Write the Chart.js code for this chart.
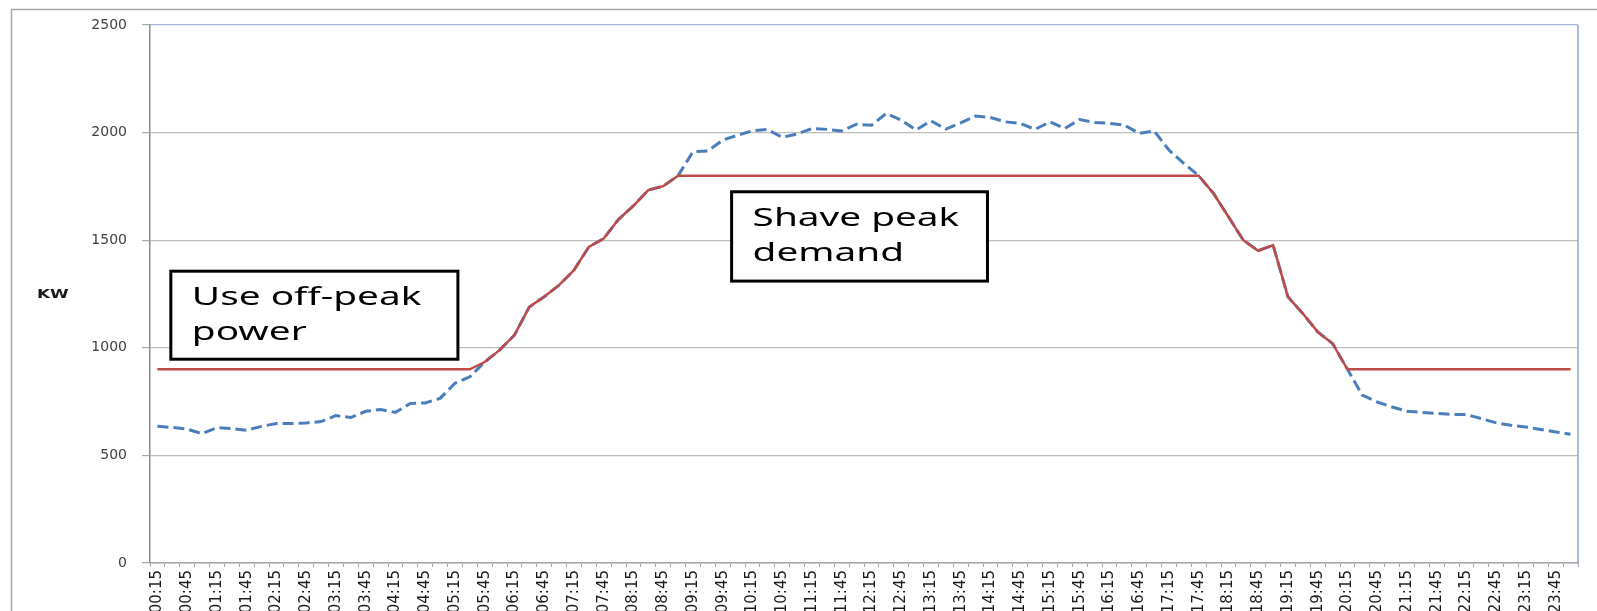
<!DOCTYPE html>
<html>
<head>
<meta charset="utf-8">
<title>Peak shaving load profile</title>
<script src="https://cdn.jsdelivr.net/npm/chart.js@4.4.1/dist/chart.umd.min.js"></script>
<style>
  html, body { margin: 0; padding: 0; background: #fff; overflow: hidden; }
  #wrap { position: relative; width: 1597px; height: 611px; }
</style>
</head>
<body>
<div id="wrap"><canvas id="loadChart"></canvas></div>
<script>
// 15 minute intervals, 00:15 through midnight
const times = [
  "00:15","00:30","00:45","01:00","01:15","01:30","01:45","02:00",
  "02:15","02:30","02:45","03:00","03:15","03:30","03:45","04:00",
  "04:15","04:30","04:45","05:00","05:15","05:30","05:45","06:00",
  "06:15","06:30","06:45","07:00","07:15","07:30","07:45","08:00",
  "08:15","08:30","08:45","09:00","09:15","09:30","09:45","10:00",
  "10:15","10:30","10:45","11:00","11:15","11:30","11:45","12:00",
  "12:15","12:30","12:45","13:00","13:15","13:30","13:45","14:00",
  "14:15","14:30","14:45","15:00","15:15","15:30","15:45","16:00",
  "16:15","16:30","16:45","17:00","17:15","17:30","17:45","18:00",
  "18:15","18:30","18:45","19:00","19:15","19:30","19:45","20:00",
  "20:15","20:30","20:45","21:00","21:15","21:30","21:45","22:00",
  "22:15","22:30","22:45","23:00","23:15","23:30","23:45","00:00"
];

// measured demand (blue dashed)
const demandKw = [
  635, 630, 622, 601, 629, 625, 617, 635, 648, 648, 651, 657,
  685, 676, 705, 713, 700, 741, 744, 765, 835, 865,
  934, 989, 1059, 1190, 1237, 1291, 1361, 1469, 1508, 1597, 1660, 1733, 1751, 1800,
  1911, 1915, 1965, 1988, 2008, 2015, 1978, 1993, 2019, 2015, 2008, 2039,
  2034, 2089, 2058, 2012, 2055, 2016, 2045, 2077, 2070, 2050, 2043, 2015,
  2050, 2019, 2061, 2047, 2043, 2035, 1996, 2008, 1919, 1857,
  1800, 1717, 1609, 1500, 1451, 1477, 1237, 1159, 1074, 1020, 900,
  780, 748, 725, 705, 700, 695, 690, 690, 671, 651, 640, 632, 620, 609, 598
];

// demand seen by the grid after storage (red)
const shavedKw = [
  900, 900, 900, 900, 900, 900, 900, 900, 900, 900, 900, 900,
  900, 900, 900, 900, 900, 900, 900, 900, 900, 900,
  934, 989, 1059, 1190, 1237, 1291, 1361, 1469, 1508, 1597, 1660, 1733, 1751, 1800,
  1800, 1800, 1800, 1800, 1800, 1800, 1800, 1800, 1800, 1800, 1800, 1800,
  1800, 1800, 1800, 1800, 1800, 1800, 1800, 1800, 1800, 1800, 1800, 1800,
  1800, 1800, 1800, 1800, 1800, 1800, 1800, 1800, 1800, 1800,
  1800, 1717, 1609, 1500, 1451, 1477, 1237, 1159, 1074, 1020, 900,
  900, 900, 900, 900, 900, 900, 900, 900, 900, 900, 900, 900, 900, 900, 900
];

const yTicks = [0, 500, 1000, 1500, 2000, 2500];

// text boxes, placed in axis units (category index / kW)
const noteText = [["Use off-peak", "power"], ["Shave peak", "demand"]];
const noteFrom = [0.9, 38.6];
const noteTo = [20.2, 55.8];
const noteTop = [1356, 1725];
const noteBottom = [947, 1310];

const framePlugin = {
  id: 'frame',
  beforeDraw(chart) {
    const ctx = chart.ctx;
    ctx.save();
    ctx.fillStyle = '#fff';
    ctx.fillRect(0, 0, chart.width, chart.height);
    ctx.strokeStyle = '#a6a6a6';
    ctx.lineWidth = 1.5;
    ctx.strokeRect(11.5, 9.5, chart.width + 20, chart.height + 20);
    ctx.restore();
  },
  afterDraw(chart) {
    const a = chart.chartArea;
    const ctx = chart.ctx;
    ctx.save();
    // plot area right edge
    ctx.strokeStyle = '#8ea8cb';
    ctx.lineWidth = 1.5;
    ctx.beginPath();
    ctx.moveTo(a.right, a.top);
    ctx.lineTo(a.right, a.bottom + 1);
    ctx.stroke();
    // unit label, horizontal
    ctx.fillStyle = '#1a1a1a';
    ctx.font = 'bold 13px "DejaVu Sans"';
    ctx.textBaseline = 'middle';
    ctx.translate(37, (a.top + a.bottom) / 2 + 1);
    ctx.scale(1.3, 1);
    ctx.fillText('KW', 0, 0);
    ctx.restore();
  }
};

const notesPlugin = {
  id: 'notes',
  afterDatasetsDraw(chart) {
    const ctx = chart.ctx;
    const x = chart.scales.x, y = chart.scales.y;
    noteText.forEach((lines, n) => {
      const l = x.getPixelForValue(noteFrom[n]);
      const r = x.getPixelForValue(noteTo[n]);
      const t = y.getPixelForValue(noteTop[n]);
      const b = y.getPixelForValue(noteBottom[n]);
      ctx.save();
      ctx.fillStyle = '#fff';
      ctx.fillRect(l, t, r - l, b - t);
      ctx.strokeStyle = '#000';
      ctx.lineWidth = 3;
      ctx.strokeRect(l, t, r - l, b - t);
      ctx.fillStyle = '#000';
      ctx.font = '25px "Noto Sans"';
      lines.forEach((line, i) => {
        ctx.save();
        ctx.translate(l + 21, t + 34 + i * 35);
        ctx.scale(1.55, 1);
        ctx.fillText(line, 0, 0);
        ctx.restore();
      });
      ctx.restore();
    });
  }
};

new Chart(document.getElementById('loadChart'), {
  type: 'line',
  data: {
    labels: times,
    datasets: [
      {
        label: 'With storage',
        data: shavedKw,
        borderColor: '#be4b48',
        borderWidth: 2.5,
        pointRadius: 0,
        tension: 0,
        fill: false
      },
      {
        label: 'Demand',
        data: demandKw,
        borderColor: '#4a7ebb',
        borderWidth: 3,
        borderDash: [11, 5],
        pointRadius: 0,
        tension: 0,
        fill: false
      }
    ]
  },
  options: {
    responsive: true,
    maintainAspectRatio: false,
    animation: false,
    layout: { padding: { left: 0, right: 19, top: 25, bottom: 0 } },
    plugins: {
      legend: { display: false },
      tooltip: { enabled: true }
    },
    scales: {
      x: {
        offset: true,
        grid: {
          offset: true,
          drawOnChartArea: false,
          drawTicks: true,
          tickLength: 4,
          color: '#a6a6a6'
        },
        border: { display: true, color: '#a6a6a6', width: 1.5 },
        ticks: {
          autoSkip: false,
          minRotation: 90,
          maxRotation: 90,
          padding: 3,
          color: '#1a1a1a',
          font: { family: 'DejaVu Sans', size: 15 },
          callback: function (v, i) {
            return i % 2 === 0 ? this.getLabelForValue(v) : '';
          }
        },
        afterFit(scale) { scale.height = 48; }
      },
      y: {
        min: yTicks[0],
        max: yTicks[yTicks.length - 1],
        grid: {
          color: (c) => (c.tick && c.tick.value === 2500 ? '#a3b5d6' : '#bdbdbd'),
          tickColor: '#a6a6a6',
          tickLength: 8,
          lineWidth: 1.2
        },
        border: { display: true, color: '#8c8c8c', width: 1.5 },
        ticks: {
          stepSize: 500,
          padding: 15,
          color: '#404040',
          font: { family: 'DejaVu Sans', size: 14 },
          callback: (v) => String(v)
        },
        afterFit(scale) { scale.width = 150; }
      }
    }
  },
  plugins: [framePlugin, notesPlugin]
});
</script>
</body>
</html>
